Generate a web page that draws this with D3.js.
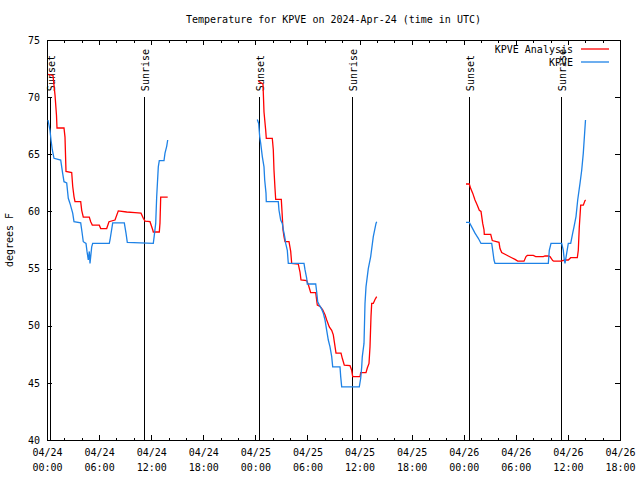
<!DOCTYPE html>
<html><head><meta charset="utf-8">
<script src="https://cdn.jsdelivr.net/npm/d3@7/dist/d3.min.js"></script>
<style>
body{margin:0;background:#fff}
text{font-family:"DejaVu Sans Mono","Liberation Mono",monospace;font-size:10px;fill:#000}
</style>
</head><body><div id="chart"></div>
<script>
const chartTitle = "Temperature for KPVE on 2024-Apr-24 (time in UTC)";
const yLabel = "degrees F";
const startTime = "2024-04-24T00:00:00Z";
const endTime = "2024-04-26T18:00:00Z";
const yDomain = [40, 75];
const yTickValues = [40, 45, 50, 55, 60, 65, 70, 75];
const seriesNames = ["KPVE Analysis", "KPVE"];
const seriesColors = ["#ff0000", "#1e82e6"];

const eventNames = ["Sunset", "Sunrise", "Sunset", "Sunrise", "Sunset", "Sunrise"];
const eventTimes = ["2024-04-24T00:23:00Z", "2024-04-24T11:13:00Z", "2024-04-25T00:27:00Z",
                    "2024-04-25T11:13:00Z", "2024-04-26T00:38:00Z", "2024-04-26T11:14:00Z"];
const eventTop = 70;

// hours since startTime, one array per contiguous segment
const analysisHours = [
  [0.115,0.691,0.921,1.094,1.152,1.958,2.073,2.188,2.845,2.96,3.11,3.225,3.882,3.997,4.181,4.872,5.033,5.218,6.024,6.185,6.876,7.141,7.832,8.212,9.18,10.136,10.827,11.092,11.288,11.864,12.175,12.244,12.935,13.016,13.096,13.903],
  [24.338,24.879,24.995,25.19,25.259,25.95,26.066,26.146,26.262,26.342,26.987,27.102,27.183,27.298,27.413,27.874,28.07,28.185,28.945,29.141,29.256,29.913,30.097,30.374,30.95,31.134,31.445,31.756,32.021,32.217,32.516,32.793,32.977,33.092,33.288,33.864,34.013,34.244,34.9,35.096,35.211,36.052,36.133,36.743,36.893,37.089,37.204,37.319,37.4,37.584,37.78,37.976],
  [48.262,48.642,48.804,49.034,49.298,49.563,49.794,49.99,50.185,50.335,50.37,51.107,51.291,52.063,52.178,52.374,52.754,53.134,53.526,53.906,54.217,54.943,55.173,55.323,56.014,56.29,57.166,57.361,57.742,57.937,58.248,58.363,59.17,59.665,60.045,60.321,60.621,61.082,61.197,61.312,61.473,61.773,61.969,62.049]
];
const analysisTemps = [
  [72.0,71.9,70.2,68.4,67.3,67.3,66.5,63.5,63.4,62.2,61.3,60.85,60.85,60.1,59.5,59.5,59.1,58.8,58.8,58.5,58.5,59.1,59.25,60.05,59.95,59.9,59.85,59.4,59.15,59.1,58.4,58.2,58.2,59.0,61.25,61.25],
  [71.4,71.15,68.7,67.1,66.4,66.4,65.4,63.6,62.0,61.05,61.05,59.55,58.4,57.8,57.35,57.35,56.5,55.45,55.4,54.7,54.0,53.95,53.6,52.9,52.9,51.8,51.7,51.4,50.95,50.5,49.9,49.6,49.2,48.6,47.6,47.6,47.15,46.55,46.5,46.1,45.55,45.55,45.9,45.9,46.3,46.7,48.15,50.8,51.95,51.95,52.3,52.55],
  [62.4,62.4,62.0,61.6,61.0,60.55,60.1,60.0,58.95,58.4,58.0,58.0,57.45,57.3,56.75,56.4,56.25,56.1,55.95,55.8,55.65,55.65,56.05,56.15,56.15,56.05,56.05,56.1,56.1,56.05,55.7,55.65,55.65,55.75,55.75,55.95,55.95,55.95,56.6,58.65,60.55,60.55,60.95,61.0]
];
const obsHours = [
  [0.115,0.346,0.461,0.61,0.806,1.578,1.693,1.808,1.958,2.269,2.453,2.649,2.96,3.11,3.882,4.031,4.181,4.492,4.607,4.757,4.872,4.953,5.149,5.264,7.176,7.257,7.568,8.904,9.099,9.249,12.244,12.359,12.52,12.635,12.82,12.935,13.477,13.592,13.787,13.903],
  [24.223,24.384,24.419,24.5,24.615,24.8,24.995,25.075,25.225,25.259,26.642,26.722,26.918,27.102,27.218,27.379,27.494,27.679,27.794,29.602,29.717,29.913,29.982,30.95,31.065,31.18,31.365,31.641,31.826,32.021,32.217,32.401,32.597,32.793,32.908,33.749,33.829,33.944,35.972,36.133,36.248,36.317,36.513,36.628,36.743,37.008,37.284,37.584,37.895,37.976],
  [48.262,48.642,48.918,49.298,49.678,49.99,51.222,51.337,51.487,51.602,57.742,57.857,58.053,59.285,59.469,59.584,59.665,59.861,60.045,60.321,60.552,60.702,60.932,61.128,61.393,61.589,61.773,62.026]
];
const obsTemps = [
  [68.0,67.1,66.25,65.4,64.65,64.5,63.9,63.3,62.6,62.5,61.15,60.7,59.85,59.1,59.0,58.2,57.35,57.2,56.5,55.75,56.5,55.45,56.9,57.2,57.2,57.5,59.0,59.0,58.1,57.3,57.2,57.9,58.95,61.3,63.9,64.45,64.45,65.1,65.7,66.25],
  [68.05,67.7,67.3,66.55,65.95,64.8,63.9,62.75,61.6,60.85,60.85,60.1,59.25,58.95,58.4,57.8,57.2,56.6,55.45,55.45,54.9,54.15,53.65,53.65,52.95,52.1,51.8,51.45,51.1,50.5,49.6,48.75,48.15,47.3,46.4,46.4,45.55,44.65,44.65,45.4,46.4,47.3,48.45,51.95,53.4,55.0,56.05,57.8,58.95,59.1],
  [59.05,59.05,58.65,58.1,57.65,57.2,57.2,56.6,55.75,55.45,55.45,56.6,57.2,57.2,56.6,55.75,55.45,56.35,57.2,57.2,58.1,58.65,59.55,61.0,62.45,63.6,65.1,68.0]
];

const W = 640, H = 480;
const m = {left: 47, right: 20, top: 40, bottom: 40};
const t0 = new Date(startTime);
const toDate = h => new Date(t0.getTime() + h * 3600000);

const x = d3.scaleUtc().domain([t0, new Date(endTime)]).range([m.left, W - m.right]);
const y = d3.scaleLinear().domain(yDomain).range([H - m.bottom, m.top]);

const svg = d3.select("#chart").append("svg").attr("width", W).attr("height", H);
svg.append("rect").attr("width", W).attr("height", H).attr("fill", "#fff");

// title (centred over the plot area)
svg.append("text").attr("x", (m.left + W - m.right) / 2).attr("y", 23).attr("text-anchor", "middle").text(chartTitle);
// y label
svg.append("text").attr("transform", "translate(13,240) rotate(-90)").attr("text-anchor", "middle").text(yLabel);

const majorTicks = x.ticks(d3.utcHour.every(6));
const minorTicks = x.ticks(d3.utcHour.every(2));
const fmtD = d3.utcFormat("%m/%d"), fmtT = d3.utcFormat("%H:%M");

function styleAxis(g){
  g.attr("font-size", null).attr("font-family", null);
  g.select(".domain").remove();
  g.selectAll("line").attr("stroke","#000").attr("shape-rendering","crispEdges");
}

// minor x ticks bottom/top
svg.append("g").attr("transform", `translate(0,${y(yDomain[0])})`)
  .call(d3.axisBottom(x).tickValues(minorTicks).tickSize(-2.5).tickFormat("")).call(styleAxis);
svg.append("g").attr("transform", `translate(0,${y(yDomain[1])})`)
  .call(d3.axisTop(x).tickValues(minorTicks).tickSize(-2.5).tickFormat("")).call(styleAxis);
// major x ticks
const gxb = svg.append("g").attr("transform", `translate(0,${y(yDomain[0])})`)
  .call(d3.axisBottom(x).tickValues(majorTicks).tickSize(-5).tickFormat("")).call(styleAxis);
gxb.selectAll(".tick").append("text").attr("text-anchor","middle").attr("fill","#000")
  .call(t => {
    t.append("tspan").attr("x", 0).attr("y", 16).text(d => fmtD(d));
    t.append("tspan").attr("x", 0).attr("y", 31).text(d => fmtT(d));
  });
svg.append("g").attr("transform", `translate(0,${y(yDomain[1])})`)
  .call(d3.axisTop(x).tickValues(majorTicks).tickSize(-5).tickFormat("")).call(styleAxis);

// y axes
const gyl = svg.append("g").attr("transform", `translate(${m.left},0)`)
  .call(d3.axisLeft(y).tickValues(yTickValues).tickSize(-5).tickPadding(7)).call(styleAxis);
gyl.selectAll(".tick text").attr("fill","#000");
svg.append("g").attr("transform", `translate(${W - m.right},0)`)
  .call(d3.axisRight(y).tickValues(yTickValues).tickSize(-5).tickFormat("")).call(styleAxis);

// border
svg.append("rect").attr("x", m.left).attr("y", m.top)
  .attr("width", W - m.left - m.right).attr("height", H - m.top - m.bottom)
  .attr("fill", "none").attr("stroke", "#000").attr("shape-rendering", "crispEdges");

// events
eventTimes.forEach((et, i) => {
  const d = new Date(et);
  svg.append("line").attr("x1", x(d)).attr("x2", x(d)).attr("y1", y(eventTop)).attr("y2", y(yDomain[0]))
    .attr("stroke", "#000").attr("stroke-width", 1).attr("shape-rendering", "crispEdges");
  svg.append("text").attr("transform", `translate(${x(d) + 1},${y(eventTop) - 6}) rotate(-90)`)
    .attr("dy", "0.35em").text(eventNames[i]);
});

// series
const line = d3.line().x(d => x(toDate(d[0]))).y(d => y(d[1]));
function drawSeries(hours, temps, color){
  hours.forEach((hs, k) => {
    const pts = hs.map((h, i) => [h, temps[k][i]]);
    svg.append("path").datum(pts).attr("d", line).attr("fill", "none")
      .attr("stroke", color).attr("stroke-width", 1.3);
  });
}
drawSeries(analysisHours, analysisTemps, seriesColors[0]);
drawSeries(obsHours, obsTemps, seriesColors[1]);

// legend
seriesNames.forEach((n, i) => {
  const ly = 49 + i * 13;
  svg.append("text").attr("x", 573).attr("y", ly + 3.5).attr("text-anchor", "end").text(n);
  svg.append("line").attr("x1", 581).attr("x2", 609).attr("y1", ly).attr("y2", ly)
    .attr("stroke", seriesColors[i]).attr("stroke-width", 1.3);
});
</script>
</body></html>
